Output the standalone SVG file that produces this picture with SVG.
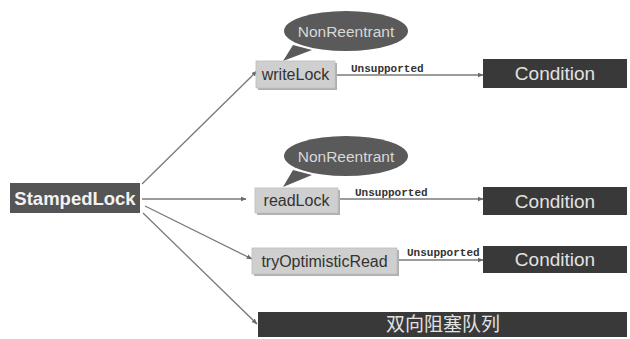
<svg xmlns="http://www.w3.org/2000/svg" width="630" height="339" viewBox="0 0 630 339">
<style>
.light{fill:#cfcfcf;stroke:#bdbdbd;stroke-width:0.8}
.shadow{fill:#b0b0b0}
.dark{fill:#393939}
.bubble{fill:#5a5a5a}
.lt{font-family:"Liberation Sans",Arial,sans-serif;font-size:16px;fill:#333;text-anchor:middle}
.dt{font-family:"Liberation Sans",Arial,sans-serif;font-size:19px;fill:#e2e2e2;text-anchor:middle}
.bt{font-family:"Liberation Sans",Arial,sans-serif;font-size:15.5px;fill:#d8d8d8;text-anchor:middle}
.cn{font-family:"Liberation Sans","Noto Sans CJK SC",sans-serif;font-size:19px;fill:#e2e2e2;text-anchor:middle}
.lbl{font-family:"Liberation Mono","Courier New",monospace;font-size:11px;font-weight:bold;fill:#333}
.conn{stroke:#7a7a7a;stroke-width:1.3;fill:none;marker-end:url(#ah)}
</style>
<defs>
<marker id="ah" viewBox="0 0 10 10" refX="9" refY="5" markerWidth="6" markerHeight="6" orient="auto" markerUnits="userSpaceOnUse">
<path d="M0,1 L10,5 L0,9 Z" fill="#6a6a6a"/>
</marker>
</defs>
<rect width="630" height="339" fill="#ffffff"/>

<g id="connectors">
<line class="conn" x1="142" y1="184" x2="257" y2="71"/>
<line class="conn" x1="142" y1="199" x2="246" y2="199"/>
<line class="conn" x1="145" y1="206" x2="252" y2="259"/>
<line class="conn" x1="143" y1="213" x2="257" y2="324"/>
<line class="conn" x1="335" y1="75" x2="483" y2="75"/>
<text class="lbl" x="351" y="72">Unsupported</text>
<line class="conn" x1="338" y1="199" x2="483" y2="199"/>
<text class="lbl" x="355" y="196">Unsupported</text>
<line class="conn" x1="397" y1="260" x2="483" y2="260"/>
<text class="lbl" x="407" y="256">Unsupported</text>
</g>

<g id="stampedLock">
<rect x="10" y="183" width="130" height="30" fill="#555555"/>
<text x="75" y="205" font-family="Liberation Sans,Arial,sans-serif" font-size="18.5" font-weight="bold" fill="#f2f2f2" text-anchor="middle">StampedLock</text>
</g>

<g id="nonReentrant1">
<path class="bubble" d="M293,45 L283,61 L312,50 Z"/>
<ellipse class="bubble" cx="346" cy="31" rx="62" ry="20"/>
<text class="bt" x="346" y="37">NonReentrant</text>
</g>

<g id="writeLock">
<rect class="shadow" x="258" y="63" width="79" height="27"/>
<rect class="light" x="256" y="61" width="79" height="27"/>
<text class="lt" x="295.5" y="80">writeLock</text>
</g>

<g id="condition1">
<rect class="dark" x="483" y="59" width="144" height="29"/>
<text class="dt" x="555" y="80">Condition</text>
</g>

<g id="nonReentrant2">
<path class="bubble" d="M293,170 L283,187 L312,175 Z"/>
<ellipse class="bubble" cx="346" cy="156" rx="62" ry="20"/>
<text class="bt" x="346" y="162">NonReentrant</text>
</g>

<g id="readLock">
<rect class="shadow" x="257" y="190" width="83" height="25"/>
<rect class="light" x="255" y="188" width="83" height="25"/>
<text class="lt" x="296.5" y="206">readLock</text>
</g>

<g id="condition2">
<rect class="dark" x="483" y="187" width="144" height="28"/>
<text class="dt" x="555" y="208">Condition</text>
</g>

<g id="tryOptimisticRead">
<rect class="shadow" x="254" y="250" width="145" height="26"/>
<rect class="light" x="252" y="248" width="145" height="26"/>
<text class="lt" x="324.5" y="267">tryOptimisticRead</text>
</g>

<g id="condition3">
<rect class="dark" x="483" y="246" width="144" height="27"/>
<text class="dt" x="555" y="266">Condition</text>
</g>

<g id="queue">
<rect class="dark" x="258" y="312" width="369" height="25"/>
<text class="cn" x="443" y="331">双向阻塞队列</text>
</g>
</svg>
